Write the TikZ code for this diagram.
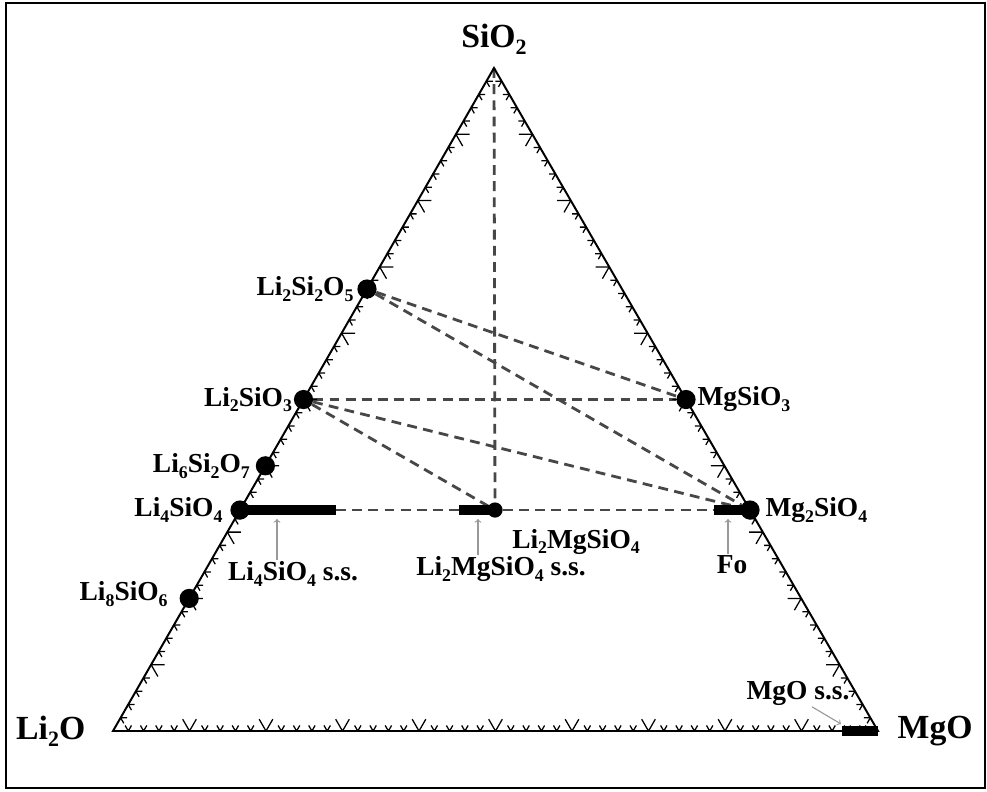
\documentclass[tikz,border=0pt]{standalone}
\usepackage{fontspec}
\setmainfont{Liberation Serif}
\usepackage{tikz}
\usetikzlibrary{arrows,positioning,calc,backgrounds}

\newcommand{\subs}[1]{\raisebox{-0.45ex}{\scalebox{0.65}{#1}}}

\tikzset{
  tie/.style={dash pattern=on 7pt off 4.5pt, line width=2pt, black!72},
  ssbar/.style={line width=7.5pt},
  phase/.style={circle, fill=black, inner sep=0, minimum size=0.48cm},
  lbl/.style={font=\bfseries\fontsize{19.5}{20}\selectfont, inner sep=1pt},
  vlbl/.style={font=\bfseries\fontsize{24}{25}\selectfont, inner sep=1pt},
  pointer/.style={->, gray!80, line width=0.8pt},
}

\begin{document}
\begin{tikzpicture}[x=0.025cm, y=-0.025cm]
\useasboundingbox (0,0) rectangle (987,791);
\draw[line width=2pt] (6,3) rectangle (985,788);

\coordinate (L) at (113,731);
\coordinate (M) at (878,731);
\coordinate (S) at (494,68);

\draw[line width=1.4pt] (L) -- (M) -- (S) -- cycle;

% grid ticks, every 2%, long every 10%
\foreach \a/\b/\p/\q in {L/M/60/120, L/S/0/-60, M/S/180/240}{
  \foreach \i in {1,...,49}{
    \pgfmathsetmacro{\len}{mod(\i,5)==0 ? 0.34 : 0.16}
    \draw[line width=0.9pt] ($(\a)!\i/50!(\b)$) coordinate (t)
      -- ++(\p:\len cm) (t) -- ++(\q:\len cm);
  }
}

\node[phase] (Li2Si2O5) at ($(L)!2/3!(S)$) {};
\node[phase] (Li2SiO3) at ($(L)!1/2!(S)$) {};
\node[phase] (Li6Si2O7) at ($(L)!2/5!(S)$) {};
\node[phase] (Li4SiO4) at ($(L)!1/3!(S)$) {};
\node[phase] (Li8SiO6) at ($(L)!1/5!(S)$) {};
\node[phase] (MgSiO3) at ($(M)!1/2!(S)$) {};
\node[phase] (Mg2SiO4) at ($(M)!1/3!(S)$) {};
\node[phase, minimum size=0.38cm] (Li2MgSiO4) at ($(Li4SiO4)!1/2!(Mg2SiO4)$) {};

% solid solution ranges
\draw[ssbar] (Li4SiO4.center) -- ++(96,0) coordinate (Li4end);
\draw[ssbar] (Li2MgSiO4.center) -- ++(-36,0) coordinate (LiMgend);
\draw[ssbar] (Mg2SiO4.center) -- ++(-36,0) coordinate (Foend);
\draw[ssbar] (M) -- ++(-36,0) coordinate (MgOend);

\begin{pgfonlayer}{background}
  \draw[tie] (S) -- (Li2MgSiO4);
  \draw[tie] (Li2Si2O5) -- (MgSiO3);
  \draw[tie] (Li2Si2O5) -- (Mg2SiO4);
  \draw[tie] (Li2SiO3) -- (MgSiO3);
  \draw[tie] (Li2SiO3) -- (Mg2SiO4);
  \draw[tie] (Li2SiO3) -- (Li2MgSiO4);
  \draw[tie] (Li4end) -- (LiMgend);
  \draw[tie] (Li2MgSiO4) -- (Foend);
\end{pgfonlayer}

\node[vlbl, above=0.3cm of S] (SiO2) {SiO\subs{2}};
\node[vlbl, left=0.65cm of L] (Li2O) {Li\subs{2}O};
\node[vlbl, right=0.45cm of M] (MgO) {MgO};

\node[lbl, left=0.05cm of Li2Si2O5] {Li\subs{2}Si\subs{2}O\subs{5}};
\node[lbl, left=0pt of Li2SiO3] {Li\subs{2}SiO\subs{3}};
\node[lbl, left=0.1cm of Li6Si2O7] {Li\subs{6}Si\subs{2}O\subs{7}};
\node[lbl, left=0.15cm of Li4SiO4] {Li\subs{4}SiO\subs{4}};
\node[lbl, left=0.25cm of Li8SiO6, yshift=3pt] {Li\subs{8}SiO\subs{6}};
\node[lbl, right=0pt of MgSiO3] {MgSiO\subs{3}};
\node[lbl, right=0.1cm of Mg2SiO4] {Mg\subs{2}SiO\subs{4}};
\node[lbl, below right=0.3cm and 0.25cm of Li2MgSiO4] {Li\subs{2}MgSiO\subs{4}};

\node[lbl] (Li4ss) at (293,574) {Li\subs{4}SiO\subs{4} s.s.};
\node[lbl] (LiMgss) at (501,569) {Li\subs{2}MgSiO\subs{4} s.s.};
\node[lbl] (Fo) at (732,565) {Fo};
\node[lbl] (MgOss) at (798,693) {MgO s.s.};

\coordinate (Li4tip) at (277,519);
\coordinate (LiMgtip) at (478,519);
\coordinate (Fotip) at (728,519);
\coordinate (MgOtip) at (841,724);
\draw[pointer] (Li4ss.north -| Li4tip) -- (Li4tip);
\draw[pointer] (LiMgss.north -| LiMgtip) -- (LiMgtip);
\draw[pointer] (Fo.north -| Fotip) -- (Fotip);
\draw[pointer] ($(MgOss.south)+(14,0)$) -- (MgOtip);

\end{tikzpicture}
\end{document}
